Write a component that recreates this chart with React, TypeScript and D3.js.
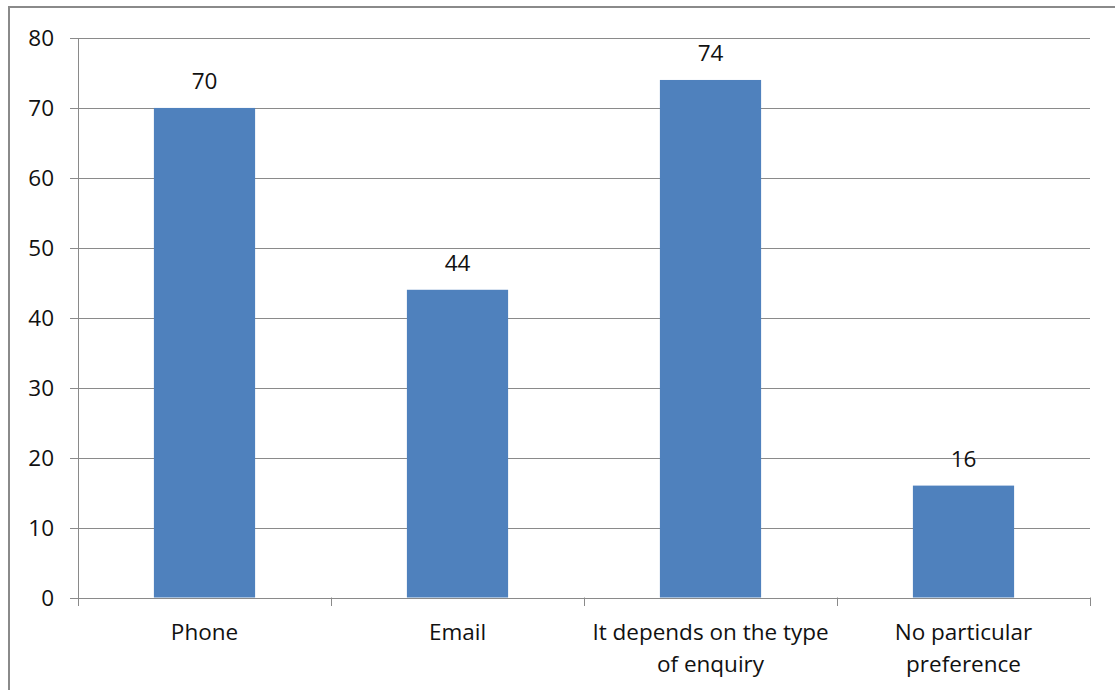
import React from "react";
import * as d3 from "d3";

const categories: string[][] = [
  ["Phone"],
  ["Email"],
  ["It depends on the type", "of enquiry"],
  ["No particular", "preference"],
];
const values: number[] = [70, 44, 74, 16];
const yTicks: number[] = [0, 10, 20, 30, 40, 50, 60, 70, 80];

const W = 1115;
const H = 690;
const left = 78;
const right = 1090;
const top = 38;
const bottom = 597.5;
const font = "'Open Sans', 'Noto Sans', sans-serif";
const fs = 22.5;
const textColor = "#111";
const gridColor = "#8a8a8a";
const barColor = "#4F81BD";

export default function App() {
  const keys = categories.map((c) => c.join(" "));
  const x = d3.scaleBand<string>().domain(keys).range([left, right]).padding(0);
  const y = d3.scaleLinear().domain([0, 80]).range([bottom, top]);
  const barW = x.bandwidth() * 0.4;
  const boundaries = d3.range(keys.length + 1).map((i) => left + i * x.step());

  return (
    <svg
      width={W}
      height={H}
      style={{ position: "absolute", left: 0, top: 0, background: "#fff" }}
      fontFamily={font}
    >
      <rect x={0} y={0} width={W} height={H} fill="#fff" />
      <rect x={9} y={7} width={1300} height={900} fill="none" stroke="#8a8a8a" strokeWidth={2} />

      {/* horizontal gridlines with left tick marks */}
      {yTicks.map((t) => (
        <line
          key={"g" + t}
          x1={70}
          x2={right}
          y1={Math.round(y(t)) + 0.5}
          y2={Math.round(y(t)) + 0.5}
          stroke={gridColor}
          strokeWidth={1}
        />
      ))}
      {yTicks.map((t) => (
        <text
          key={"t" + t}
          x={54}
          y={y(t) + 8}
          textAnchor="end"
          fontSize={fs}
          fill={textColor}
        >
          {t}
        </text>
      ))}

      {/* bars */}
      {keys.map((k, i) => (
        <rect
          key={"b" + k}
          x={(x(k) as number) + (x.bandwidth() - barW) / 2}
          y={y(values[i])}
          width={barW}
          height={y(0) - y(values[i])}
          fill={barColor}
        />
      ))}
      {keys.map((k, i) => (
        <text
          key={"v" + k}
          x={(x(k) as number) + x.bandwidth() / 2}
          y={y(values[i]) - 18.5}
          textAnchor="middle"
          fontSize={fs}
          fill={textColor}
        >
          {values[i]}
        </text>
      ))}

      {/* axes */}
      <line x1={left + 0.5} x2={left + 0.5} y1={top} y2={606} stroke={gridColor} strokeWidth={1} />
      <line
        x1={left}
        x2={right}
        y1={Math.round(y(0)) + 0.5}
        y2={Math.round(y(0)) + 0.5}
        stroke={gridColor}
        strokeWidth={1}
      />
      {boundaries.map((b, i) => (
        <line
          key={"xt" + i}
          x1={Math.round(b) + 0.5}
          x2={Math.round(b) + 0.5}
          y1={y(0)}
          y2={606}
          stroke={gridColor}
          strokeWidth={1}
        />
      ))}

      {/* category labels */}
      {categories.map((lines, i) => (
        <text
          key={"c" + i}
          x={(x(keys[i]) as number) + x.bandwidth() / 2}
          y={640}
          textAnchor="middle"
          fontSize={fs}
          fill={textColor}
        >
          {lines.map((ln, j) => (
            <tspan key={j} x={(x(keys[i]) as number) + x.bandwidth() / 2} dy={j === 0 ? 0 : 32}>
              {ln}
            </tspan>
          ))}
        </text>
      ))}
    </svg>
  );
}
